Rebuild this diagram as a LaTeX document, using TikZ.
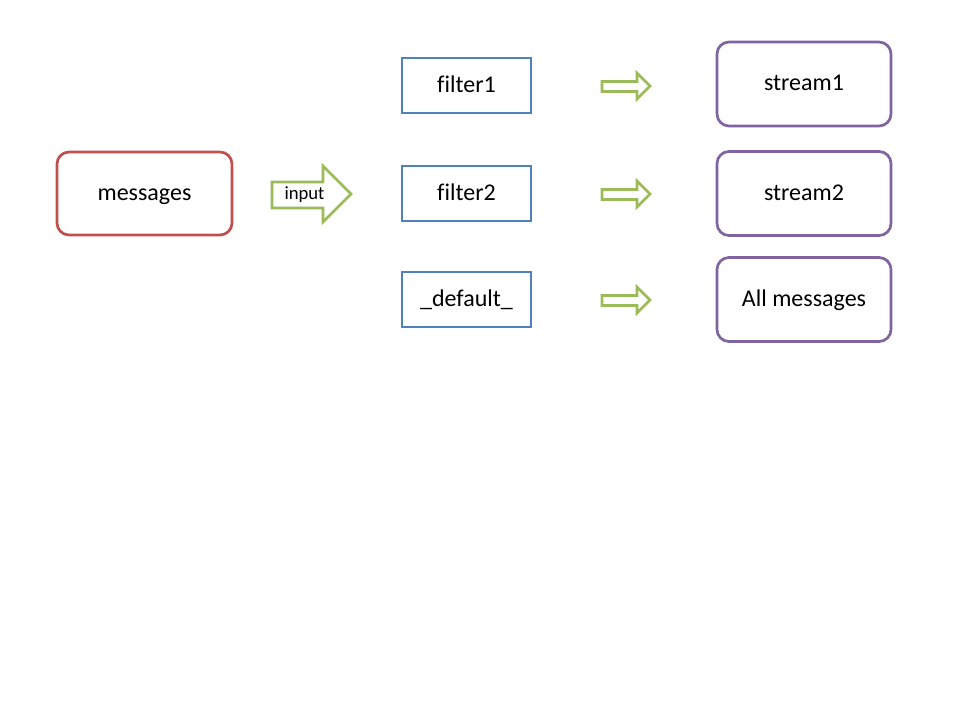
\documentclass[tikz,border=0pt]{standalone}
\usepackage{fontspec}
\setmainfont{Carlito}[Ligatures=NoCommon]
\definecolor{cred}{HTML}{C0504D}
\definecolor{cblue}{HTML}{4F81BD}
\definecolor{cpurple}{HTML}{8064A2}
\definecolor{cgreen}{HTML}{9BBB59}
\begin{document}
\begin{tikzpicture}[x=0.75pt,y=-0.75pt,
  txt/.style={font=\fontsize{18}{22}\selectfont,inner sep=0pt,text height=12pt,text depth=1.5pt},
  srcbox/.style={txt,draw=cred,line width=2pt,rounded corners=9pt,minimum width=131.25pt,minimum height=62.25pt},
  filtbox/.style={txt,draw=cblue,line width=2pt,minimum width=96.75pt,minimum height=41.25pt},
  strbox/.style={txt,draw=cpurple,line width=2pt,rounded corners=9pt,minimum width=130.5pt,minimum height=63pt},
  blockarrow/.style={draw=cgreen,line width=2pt,line join=miter}]
\useasboundingbox[fill=white] (0,0) rectangle (960,720);
\node[srcbox] (msg) at (144.5,193.5) {messages};
\node[filtbox] (f1) at (466.5,85.5) {filter1};
\node[filtbox] (f2) at (466.5,193.5) {filter2};
\node[filtbox] (fd) at (466.5,299.5) {\_default\_};
\node[strbox] (s1) at (804,84) {stream1};
\node[strbox] (s2) at (804,193.5) {stream2};
\node[strbox] (s3) at (804,299.5) {All messages};
% input arrow
\draw[blockarrow] (272,182) -- (323,182) -- (323,166) -- (351,194) -- (323,222) -- (323,208) -- (272,208) -- cycle;
\node[font=\fontsize{14}{16}\selectfont,inner sep=0pt,text height=9pt,text depth=1pt] (inp) at (304.5,194) {input};
% small arrows
\foreach \yy/\nm in {86/a1,194/a2,300/a3}{
  \draw[blockarrow] (602,\yy-4.5) -- (637,\yy-4.5) -- (637,\yy-13) -- (650,\yy) -- (637,\yy+13) -- (637,\yy+5.5) -- (602,\yy+5.5) -- cycle;
}
\end{tikzpicture}
\end{document}
